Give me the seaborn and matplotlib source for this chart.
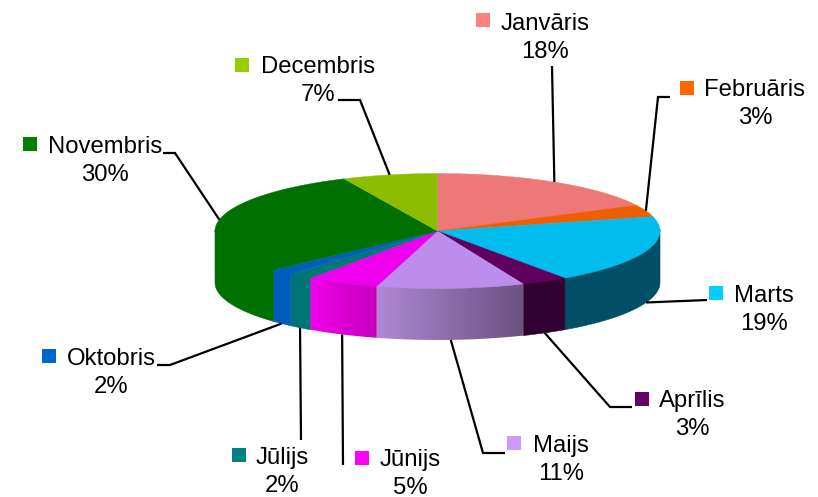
import numpy as np
import matplotlib
matplotlib.use("Agg")
import matplotlib.pyplot as plt
from matplotlib.colors import LinearSegmentedColormap
from matplotlib.patches import Polygon
import seaborn as sns

# Data
months = ["Janvāris", "Februāris", "Marts", "Aprīlis", "Maijs", "Jūnijs",
          "Jūlijs", "Oktobris", "Novembris", "Decembris"]
shares = [17.6, 3.4, 19.3, 3.4, 10.7, 5.3, 1.8, 1.7, 29.9, 6.9]
key_colors = ["#ff8080", "#ff6600", "#00ccff", "#660066", "#cc99ff",
              "#ff00ff", "#008080", "#0066cc", "#008000", "#99cc00"]
top_colors = ["#ee7777", "#ee5f00", "#00bdee", "#5f005f", "#bb8eee",
              "#ee00ee", "#007777", "#005fbd", "#007000", "#8ebd00"]
wall_left = ["#773c3c", "#773000", "#004f66", "#300030", "#b088d4",
             "#f200ec", "#007474", "#005cc0", "#007000", "#4c6600"]
wall_right = ["#773c3c", "#773000", "#004f66", "#300030", "#6c5080",
              "#c400bc", "#007474", "#005cc0", "#007000", "#4c6600"]

# Layout in pixels: label centre, key centre, leader elbows
label_xy = [(545, 38), (755, 104), (764, 310), (692, 415), (561, 460),
            (410, 474), (282, 472), (111, 373), (105, 161), (318, 81)]
key_xy = [(483, 20), (687, 88), (716, 293), (642, 399), (514, 443),
          (362, 458), (238.5, 454.5), (48.5, 355.5), (30, 144), (242, 65)]
elbows = [[(552, 66)], [(658, 97), (670, 97)], [(707, 300)],
          [(610, 407), (632, 407)], [(483, 453), (505, 453)], [(343, 465)],
          [(301, 440)], [(170, 365), (157, 365)], [(175, 153), (163, 153)],
          [(360, 100), (338, 100)]]

cx, cy, rx, ry, depth = 437.5, 231, 222.5, 57.5, 51.5

sns.set_theme(style="white")
plt.rcParams["font.family"] = ["Liberation Sans", "DejaVu Sans"]

fig, ax = plt.subplots(figsize=(8.18, 4.97), dpi=100)
fig.subplots_adjust(0, 0, 1, 1)
ax.axis("off")


def rim(angles, drop=0):
    # angles run clockwise from the top of the ellipse
    rad = np.radians(angles)
    return np.column_stack([cx + rx * np.sin(rad), cy - ry * np.cos(rad) + drop])


edges = np.concatenate([[0], np.cumsum(shares)]) * 3.6

# side walls, only the front half shows
for i in range(len(months)):
    a, b = max(edges[i], 90), min(edges[i + 1], 270)
    if a >= b:
        continue
    t = np.linspace(a, b, 80)
    # upper edge tucked under the top face so no seam shows
    pts = np.vstack([rim(t, -1.5), rim(t[::-1], depth)])
    if wall_left[i] == wall_right[i]:
        ax.add_patch(Polygon(pts, fc=wall_left[i], ec=wall_left[i], lw=0.4, zorder=2))
    else:
        cmap = LinearSegmentedColormap.from_list("wall", [wall_left[i], wall_right[i]])
        im = ax.imshow(np.linspace(0, 1, 256)[None, :], cmap=cmap, aspect="auto", zorder=2,
                       extent=(pts[:, 0].min(), pts[:, 0].max(), pts[:, 1].max(), pts[:, 1].min()))
        im.set_clip_path(Polygon(pts, transform=ax.transData))
ax.set_xlim(0, 818)
ax.set_ylim(497, 0)

# top face
for i in range(len(months)):
    t = np.linspace(edges[i], edges[i + 1], 80)
    pts = np.vstack([[cx, cy], rim(t)])
    ax.add_patch(Polygon(pts, fc=top_colors[i], ec=top_colors[i], lw=0.3, zorder=3))

# leader lines and labels
for i, name in enumerate(months):
    mid = (edges[i] + edges[i + 1]) / 2
    on_front = 90 < mid < 270
    start = rim(np.array([mid]), depth if on_front else 0)[0]
    path = np.vstack([start, elbows[i]])
    ax.plot(path[:, 0], path[:, 1], color="black", lw=1.6, zorder=4,
            solid_joinstyle="miter", solid_capstyle="butt")
    ax.scatter(*key_xy[i], marker="s", s=90, color=key_colors[i], linewidths=0, zorder=5)
    ax.text(*label_xy[i], f"{name}\n{round(shares[i])}%", ha="center", va="center",
            fontsize=17.2, color="black", linespacing=1.3, zorder=5)

fig.savefig("out.png", dpi=100)
